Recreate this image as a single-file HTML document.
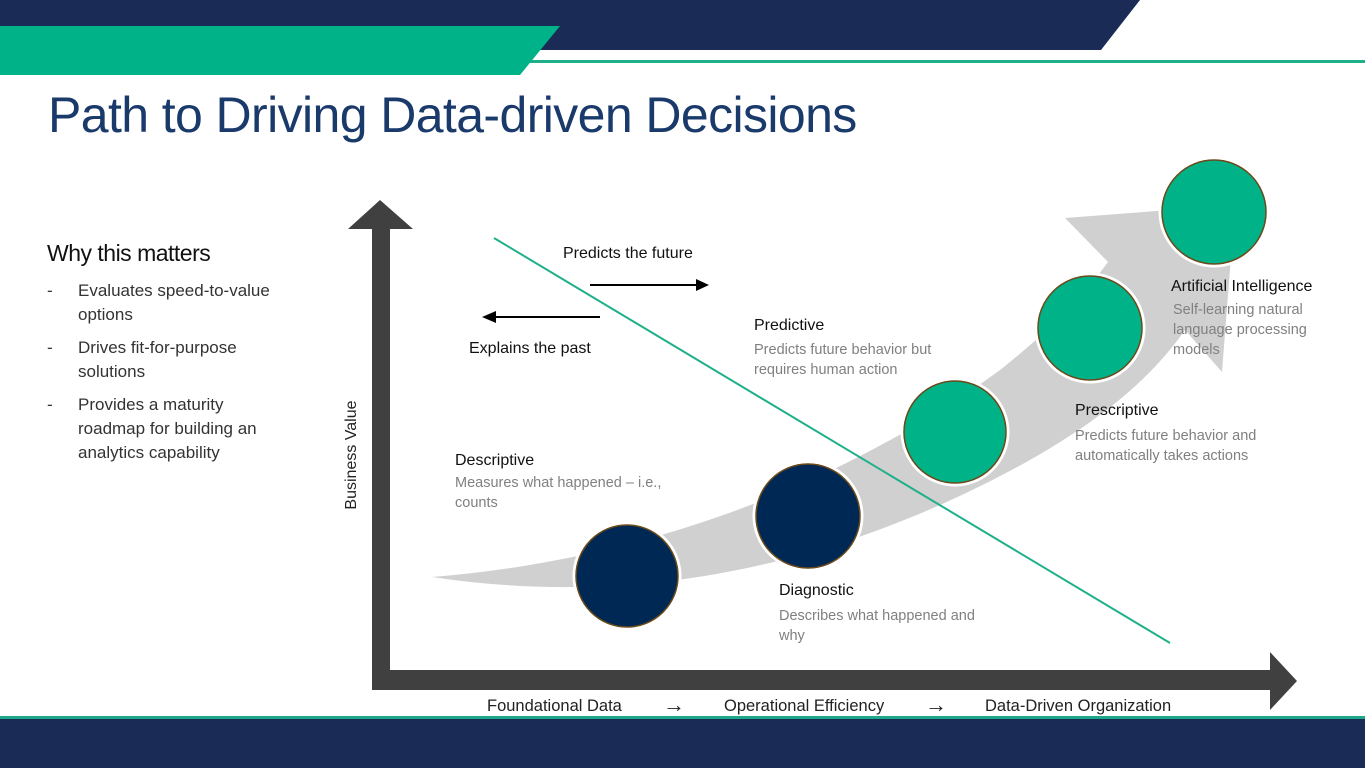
<!DOCTYPE html>
<html><head><meta charset="utf-8"><style>
body{margin:0;width:1365px;height:768px;overflow:hidden;background:#fff;font-family:"Liberation Sans",sans-serif;position:relative}
.t{position:absolute;white-space:nowrap}
.h{color:#111;font-size:16px}
.d{color:#808080;font-size:14.5px;line-height:20px}
</style></head><body>
<svg width="1365" height="768" style="position:absolute;left:0;top:0">
<polygon points="0,0 1140,0 1101,50 0,50" fill="#1a2b55"/>
<rect x="530" y="60" width="835" height="3" fill="#1fb08a"/>
<polygon points="0,26 560,26 520,75 0,75" fill="#00b287"/>
<rect x="0" y="716" width="1365" height="3" fill="#1fa78a"/>
<rect x="0" y="719" width="1365" height="49" fill="#1a2b55"/>
<path d="M432,577 C650,560 850,480 1000,370 C1050,330 1080,300 1108,262 L1065,218 L1235,205 L1222,372 L1185,330 C1150,380 1100,420 1030,460 C850,560 650,610 432,577 Z" fill="#d0d0d0"/>
<rect x="372" y="228" width="18" height="462" fill="#404040"/>
<polygon points="348,229 413,229 380,200" fill="#404040"/>
<rect x="372" y="670" width="900" height="20" fill="#404040"/>
<polygon points="1270,652 1297,681 1270,710" fill="#404040"/>
<line x1="494" y1="238" x2="1170" y2="643" stroke="#1fb08a" stroke-width="2"/>
<line x1="590" y1="285" x2="698" y2="285" stroke="#000" stroke-width="2"/>
<polygon points="696,279 709,285 696,291" fill="#000"/>
<line x1="600" y1="317" x2="494" y2="317" stroke="#000" stroke-width="2"/>
<polygon points="496,311 482,317 496,323" fill="#000"/>
<g stroke="#fff" stroke-width="3"><circle cx="627" cy="576" r="53"/><circle cx="808" cy="516" r="54"/><circle cx="955" cy="432" r="53"/><circle cx="1090" cy="328" r="54"/><circle cx="1214" cy="212" r="54"/></g>
<g stroke="#6b4a1a" stroke-width="1.5">
<circle cx="627" cy="576" r="51" fill="#002855"/>
<circle cx="808" cy="516" r="52" fill="#002855"/>
<circle cx="955" cy="432" r="51" fill="#00b287"/>
<circle cx="1090" cy="328" r="52" fill="#00b287"/>
<circle cx="1214" cy="212" r="52" fill="#00b287"/>
</g>
<text x="356" y="455" transform="rotate(-90 356 455)" text-anchor="middle" font-family="Liberation Sans,sans-serif" font-size="16" fill="#222">Business Value</text>
</svg>
<div class="t" style="left:48px;top:86px;font-size:50px;color:#1a3a6b;letter-spacing:-0.6px">Path to Driving Data-driven Decisions</div>
<div class="t" style="left:47px;top:240px;font-size:23px;color:#111;letter-spacing:-0.5px">Why this matters</div>
<div style="position:absolute;left:47px;top:279px;font-size:17px;line-height:24px;color:#333;width:250px">
<div style="display:flex;margin-bottom:9px"><span style="width:31px">-</span><span>Evaluates speed-to-value<br>options</span></div>
<div style="display:flex;margin-bottom:9px"><span style="width:31px">-</span><span>Drives fit-for-purpose<br>solutions</span></div>
<div style="display:flex"><span style="width:31px">-</span><span>Provides a maturity<br>roadmap for building an<br>analytics capability</span></div>
</div>
<div class="t h" style="left:563px;top:245px">Predicts the future</div>
<div class="t h" style="left:469px;top:340px">Explains the past</div>
<div class="t h" style="left:754px;top:317px">Predictive</div>
<div class="t d" style="left:754px;top:340px">Predicts future behavior but<br>requires human action</div>
<div class="t h" style="left:455px;top:452px">Descriptive</div>
<div class="t d" style="left:455px;top:473px">Measures what happened – i.e.,<br>counts</div>
<div class="t h" style="left:779px;top:582px">Diagnostic</div>
<div class="t d" style="left:779px;top:606px">Describes what happened and<br>why</div>
<div class="t h" style="left:1075px;top:402px">Prescriptive</div>
<div class="t d" style="left:1075px;top:426px">Predicts future behavior and<br>automatically takes actions</div>
<div class="t h" style="left:1171px;top:278px">Artificial Intelligence</div>
<div class="t d" style="left:1173px;top:300px">Self-learning natural<br>language processing<br>models</div>
<div class="t" style="left:487px;top:697px;font-size:16.5px;color:#222">Foundational Data</div>
<div class="t" style="left:663px;top:692px;font-size:22px;color:#222">→</div>
<div class="t" style="left:724px;top:697px;font-size:16.5px;color:#222">Operational Efficiency</div>
<div class="t" style="left:925px;top:692px;font-size:22px;color:#222">→</div>
<div class="t" style="left:985px;top:697px;font-size:16.5px;color:#222">Data-Driven Organization</div>
</body></html>
